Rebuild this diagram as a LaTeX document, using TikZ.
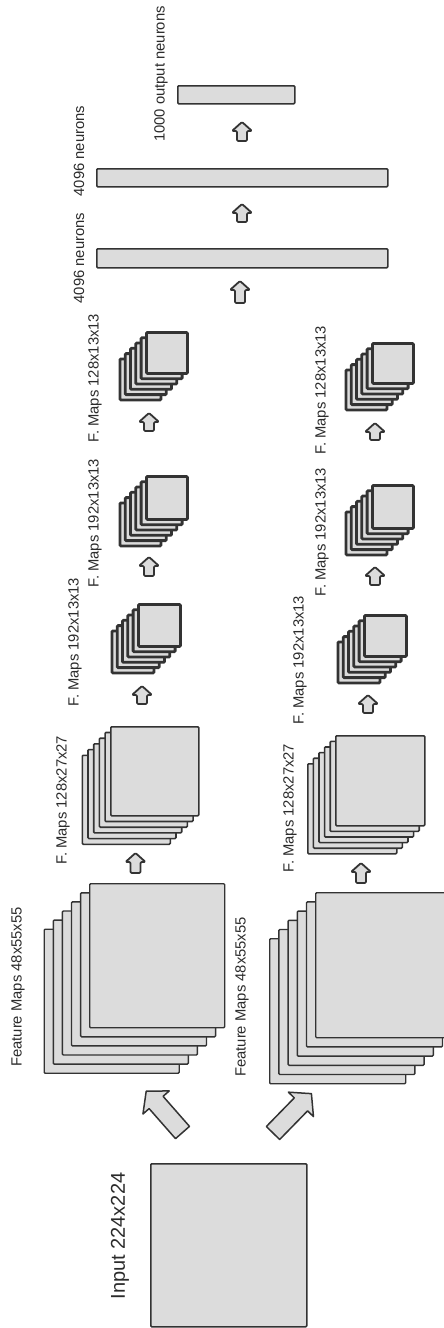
\documentclass[tikz,border=0pt]{standalone}
\usepackage{fontspec}
\setmainfont{Liberation Sans}
\definecolor{mapfill}{HTML}{DCDCDC}
\definecolor{mapline}{HTML}{333333}
\definecolor{labeltext}{HTML}{2B2B2B}

\tikzset{
  layer/.style={draw=mapline, fill=mapfill, rounded corners=1pt, inner sep=0pt, anchor=north west},
  biglayer/.style={layer, line width=1.4pt},
  midlayer/.style={layer, line width=1.6pt},
  smalllayer/.style={layer, line width=2.8pt},
  fcbar/.style={layer, line width=1.5pt},
  lbl/.style={rotate=90, inner sep=0pt, text=labeltext, font=\fontsize{14.8}{16}\selectfont},
  inlbl/.style={lbl, font=\fontsize{20}{22}\selectfont},
  uparrow/.style={draw=mapline, fill=mapfill, line width=1.8pt, rounded corners=1.2pt, line join=round},
  bigarrow/.style={draw=mapline, fill=mapfill, line width=1.5pt, line join=round},
}

% six stacked feature maps: #1 name of the front map, (#2,#3) its top-left corner,
% #4 x #5 its size, #6 offset between maps, #7 layer style
\newcommand\mapstack[7]{%
  \foreach \k in {5,4,3,2,1}{%
    \node[#7, minimum width=#4pt, minimum height=#5pt] (#1-\k) at ({#2-\k*#6},{#3+\k*#6}) {};
  }
  \node[#7, minimum width=#4pt, minimum height=#5pt] (#1) at (#2,#3) {};
}

% small upward block arrow: centre x #1, tip y #2, length #3
\newcommand\smallup[3]{%
  \draw[uparrow] (#1,#2) -- ++(10,9) -- ++(-5,0) -- ++(0,{#3-9}) -- ++(-10,0)
    -- ++(0,{9-#3}) -- ++(-5,0) -- cycle;
}

% large block arrow: tail centre (#1,#2), direction #3 degrees
\newcommand\largearrow[3]{%
  \begin{scope}[shift={(#1,#2)}, rotate=#3]
    \draw[bigarrow] (0,-9.3) -- (40,-9.3) -- (40,-17.5) -- (55,0) -- (40,17.5)
      -- (40,9.3) -- (0,9.3) -- cycle;
  \end{scope}
}

\begin{document}
\begin{tikzpicture}[x=1pt, y=-1pt]
  \useasboundingbox (0,0) rectangle (444,1328);
  \fill[white] (0,0) rectangle (444,1328);
  \clip (0,0) rectangle (444,1328);

  % input image
  \node[biglayer, line width=1.5pt, minimum width=156pt, minimum height=163pt] (input) at (150,1163) {};
  \node[inlbl] (inputlbl) at (120,1236) {Input 224x224};

  \largearrow{182.5}{1132.5}{131.3}
  \largearrow{273}{1133}{45.7}

  % first convolution, two groups
  \mapstack{c1a}{89}{883}{135}{144}{9.1}{biglayer}
  \mapstack{c1b}{315}{892}{136}{145}{9.2}{biglayer}
  \node[lbl] (c1albl) at (18,987) {Feature Maps 48x55x55};
  \node[lbl] (c1blbl) at (242,997) {Feature Maps 48x55x55};

  \smallup{135.5}{853}{20}
  \smallup{361}{863}{20}

  % second convolution
  \mapstack{c2a}{110}{726}{88}{89}{5.7}{midlayer}
  \mapstack{c2b}{335}{735}{89}{90}{5.6}{midlayer}
  \node[lbl] (c2albl) at (63,800) {F. Maps 128x27x27};
  \node[lbl] (c2blbl) at (290,808) {F. Maps 128x27x27};

  \smallup{142}{686}{18}
  \smallup{368}{695}{18}

  % third convolution
  \mapstack{c3a}{137}{603}{42}{42}{5.3}{smalllayer}
  \mapstack{c3b}{363}{614}{42}{41}{5.3}{smalllayer}
  \node[lbl] (c3albl) at (75,642) {F. Maps 192x13x13};
  \node[lbl] (c3blbl) at (300,660) {F. Maps 192x13x13};

  \smallup{149}{557}{19}
  \smallup{375}{567}{18}

  % fourth convolution
  \mapstack{c4a}{145}{475}{41}{43}{5.3}{smalllayer}
  \mapstack{c4b}{371}{484}{41}{43}{5.3}{smalllayer}
  \node[lbl] (c4albl) at (95,523) {F. Maps 192x13x13};
  \node[lbl] (c4blbl) at (322,532) {F. Maps 192x13x13};

  \smallup{149}{413}{18}
  \smallup{375}{423}{17}

  % fifth convolution
  \mapstack{c5a}{145}{331}{41}{41}{5.3}{smalllayer}
  \mapstack{c5b}{371}{342}{41}{40}{5.3}{smalllayer}
  \node[lbl] (c5albl) at (95,378) {F. Maps 128x13x13};
  \node[lbl] (c5blbl) at (322,390) {F. Maps 128x13x13};

  \smallup{240}{281}{22}

  % fully connected layers
  \node[fcbar, minimum width=291pt, minimum height=19pt] (fc1) at (96,248) {};
  \node[lbl] (fc1lbl) at (79,258) {4096 neurons};

  \smallup{242}{204}{18}

  \node[fcbar, minimum width=291pt, minimum height=18pt] (fc2) at (96,168) {};
  \node[lbl] (fc2lbl) at (79,151) {4096 neurons};

  \smallup{242}{122}{19}

  \node[fcbar, minimum width=117pt, minimum height=18pt] (fc3) at (177,85) {};
  \node[lbl] (fc3lbl) at (161,74) {1000 output neurons};
\end{tikzpicture}
\end{document}
